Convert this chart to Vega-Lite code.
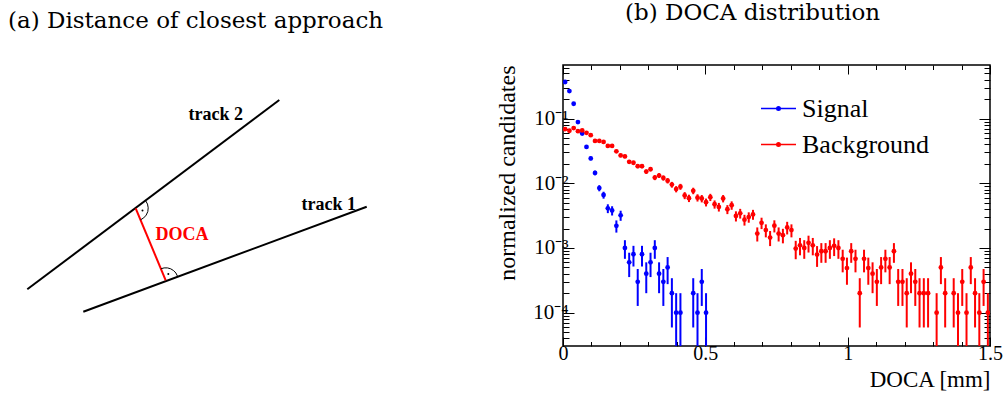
{
  "$schema": "https://vega.github.io/schema/vega-lite/v6.json",
  "padding": {"top": 1, "left": 0, "right": 0, "bottom": 0},
  "spacing": 24,
  "config": {
    "font": "Liberation Serif",
    "view": {"stroke": "black", "strokeWidth": 1.5},
    "title": {"font": "DejaVu Serif", "fontSize": 23, "fontWeight": "normal", "color": "black", "baseline": "alphabetic", "offset": 32},
    "axis": {"labelFont": "Liberation Serif", "titleFont": "Liberation Serif", "labelColor": "black", "titleColor": "black", "titleFontWeight": "normal", "tickColor": "black", "grid": false, "domain": false},
    "legend": {"labelFont": "Liberation Serif", "labelColor": "black"}
  },
  "datasets": {
    "tracks": [
      {"name": "track 2", "x": 2.73, "y": 5.67, "x2": 27.93, "y2": 24.6},
      {"name": "track 1", "x": 8.33, "y": 3.43, "x2": 36.67, "y2": 13.93}
    ],
    "docaLine": [
      {"name": "DOCA", "x": 13.57, "y": 13.77, "x2": 16.57, "y2": 6.57}
    ],
    "arcs": [
      {"arc": 1, "i": 0, "x": 14.57, "y": 14.52},
      {"arc": 1, "i": 1, "x": 14.75, "y": 14.19},
      {"arc": 1, "i": 2, "x": 14.82, "y": 13.82},
      {"arc": 1, "i": 3, "x": 14.78, "y": 13.44},
      {"arc": 1, "i": 4, "x": 14.62, "y": 13.09},
      {"arc": 1, "i": 5, "x": 14.37, "y": 12.81},
      {"arc": 1, "i": 6, "x": 14.05, "y": 12.62},
      {"arc": 2, "i": 0, "x": 16.09, "y": 7.72},
      {"arc": 2, "i": 1, "x": 16.41, "y": 7.81},
      {"arc": 2, "i": 2, "x": 16.75, "y": 7.81},
      {"arc": 2, "i": 3, "x": 17.07, "y": 7.72},
      {"arc": 2, "i": 4, "x": 17.36, "y": 7.54},
      {"arc": 2, "i": 5, "x": 17.59, "y": 7.30},
      {"arc": 2, "i": 6, "x": 17.74, "y": 7.00}
    ],
    "dots": [
      {"x": 14.25, "y": 13.55},
      {"x": 16.83, "y": 7.2}
    ],
    "trackLabels": [
      {"t": "track 2", "x": 21.58, "y": 22.57},
      {"t": "track 1", "x": 32.88, "y": 13.63}
    ],
    "docaLabel": [
      {"t": "DOCA", "x": 18.2, "y": 10.57}
    ],
    "hist": [
      {"s": "Signal", "x": 0.0075, "v": 0.369, "lo": 0.363, "hi": 0.375},
      {"s": "Signal", "x": 0.0225, "v": 0.267, "lo": 0.262, "hi": 0.272},
      {"s": "Signal", "x": 0.0375, "v": 0.170, "lo": 0.166, "hi": 0.174},
      {"s": "Signal", "x": 0.0525, "v": 0.0887, "lo": 0.0857, "hi": 0.0917},
      {"s": "Signal", "x": 0.0675, "v": 0.059, "lo": 0.0566, "hi": 0.0614},
      {"s": "Signal", "x": 0.0825, "v": 0.0365, "lo": 0.0346, "hi": 0.0384},
      {"s": "Signal", "x": 0.0975, "v": 0.0243, "lo": 0.0227, "hi": 0.0259},
      {"s": "Signal", "x": 0.1125, "v": 0.0145, "lo": 0.0133, "hi": 0.0157},
      {"s": "Signal", "x": 0.1275, "v": 0.00845, "lo": 0.00753, "hi": 0.00937},
      {"s": "Signal", "x": 0.1425, "v": 0.0066, "lo": 0.00579, "hi": 0.00741},
      {"s": "Signal", "x": 0.1575, "v": 0.0041, "lo": 0.00346, "hi": 0.00474},
      {"s": "Signal", "x": 0.1725, "v": 0.0038, "lo": 0.00318, "hi": 0.00442},
      {"s": "Signal", "x": 0.1875, "v": 0.0022, "lo": 0.00173, "hi": 0.00267},
      {"s": "Signal", "x": 0.2025, "v": 0.0032, "lo": 0.00263, "hi": 0.00377},
      {"s": "Signal", "x": 0.2175, "v": 0.001, "lo": 0.00068, "hi": 0.00132},
      {"s": "Signal", "x": 0.2325, "v": 0.0006, "lo": 0.000355, "hi": 0.000845},
      {"s": "Signal", "x": 0.2475, "v": 0.0008, "lo": 0.000517, "hi": 0.00108},
      {"s": "Signal", "x": 0.2625, "v": 0.0003, "lo": 0.000127, "hi": 0.000473},
      {"s": "Signal", "x": 0.2775, "v": 0.0008, "lo": 0.000517, "hi": 0.00108},
      {"s": "Signal", "x": 0.2925, "v": 0.0004, "lo": 0.0002, "hi": 0.0006},
      {"s": "Signal", "x": 0.3075, "v": 0.0006, "lo": 0.000355, "hi": 0.000845},
      {"s": "Signal", "x": 0.3225, "v": 0.001, "lo": 0.00068, "hi": 0.00132},
      {"s": "Signal", "x": 0.3375, "v": 0.0004, "lo": 0.0002, "hi": 0.0006},
      {"s": "Signal", "x": 0.3525, "v": 0.0003, "lo": 0.000127, "hi": 0.000473},
      {"s": "Signal", "x": 0.3675, "v": 0.0005, "lo": 0.000276, "hi": 0.000724},
      {"s": "Signal", "x": 0.3825, "v": 0.0002, "lo": 0.000059, "hi": 0.000341},
      {"s": "Signal", "x": 0.3975, "v": 0.0001, "lo": 0.000001, "hi": 0.0002},
      {"s": "Signal", "x": 0.4125, "v": 0.0001, "lo": 0.000001, "hi": 0.0002},
      {"s": "Signal", "x": 0.4575, "v": 0.0002, "lo": 0.000059, "hi": 0.000341},
      {"s": "Signal", "x": 0.4725, "v": 0.0001, "lo": 0.000001, "hi": 0.0002},
      {"s": "Signal", "x": 0.4875, "v": 0.0003, "lo": 0.000127, "hi": 0.000473},
      {"s": "Signal", "x": 0.5025, "v": 0.0001, "lo": 0.000001, "hi": 0.0002},
      {"s": "Background", "x": 0.0075, "v": 0.069, "lo": 0.0664, "hi": 0.0716},
      {"s": "Background", "x": 0.0225, "v": 0.065, "lo": 0.0625, "hi": 0.0676},
      {"s": "Background", "x": 0.0375, "v": 0.0715, "lo": 0.0688, "hi": 0.0742},
      {"s": "Background", "x": 0.0525, "v": 0.064, "lo": 0.0615, "hi": 0.0665},
      {"s": "Background", "x": 0.0675, "v": 0.0657, "lo": 0.0631, "hi": 0.0683},
      {"s": "Background", "x": 0.0825, "v": 0.0604, "lo": 0.0579, "hi": 0.0629},
      {"s": "Background", "x": 0.0975, "v": 0.0556, "lo": 0.0532, "hi": 0.058},
      {"s": "Background", "x": 0.1125, "v": 0.0453, "lo": 0.0432, "hi": 0.0474},
      {"s": "Background", "x": 0.1275, "v": 0.0453, "lo": 0.0432, "hi": 0.0474},
      {"s": "Background", "x": 0.1425, "v": 0.0437, "lo": 0.0416, "hi": 0.0458},
      {"s": "Background", "x": 0.1575, "v": 0.0379, "lo": 0.036, "hi": 0.0399},
      {"s": "Background", "x": 0.1725, "v": 0.0379, "lo": 0.036, "hi": 0.0399},
      {"s": "Background", "x": 0.1875, "v": 0.0313, "lo": 0.0295, "hi": 0.0331},
      {"s": "Background", "x": 0.2025, "v": 0.027, "lo": 0.0254, "hi": 0.0286},
      {"s": "Background", "x": 0.2175, "v": 0.0261, "lo": 0.0245, "hi": 0.0277},
      {"s": "Background", "x": 0.2325, "v": 0.0215, "lo": 0.02, "hi": 0.023},
      {"s": "Background", "x": 0.2475, "v": 0.0208, "lo": 0.0194, "hi": 0.0222},
      {"s": "Background", "x": 0.2625, "v": 0.01845, "lo": 0.0171, "hi": 0.0198},
      {"s": "Background", "x": 0.2775, "v": 0.01845, "lo": 0.0171, "hi": 0.0198},
      {"s": "Background", "x": 0.2925, "v": 0.0152, "lo": 0.014, "hi": 0.0164},
      {"s": "Background", "x": 0.3075, "v": 0.01655, "lo": 0.0153, "hi": 0.0178},
      {"s": "Background", "x": 0.3225, "v": 0.01227, "lo": 0.0112, "hi": 0.0134},
      {"s": "Background", "x": 0.3375, "v": 0.0132, "lo": 0.0121, "hi": 0.0144},
      {"s": "Background", "x": 0.3525, "v": 0.0121, "lo": 0.011, "hi": 0.0132},
      {"s": "Background", "x": 0.3675, "v": 0.011, "lo": 0.00995, "hi": 0.01205},
      {"s": "Background", "x": 0.3825, "v": 0.00955, "lo": 0.00857, "hi": 0.01053},
      {"s": "Background", "x": 0.3975, "v": 0.00815, "lo": 0.00725, "hi": 0.00905},
      {"s": "Background", "x": 0.4125, "v": 0.00887, "lo": 0.00793, "hi": 0.00981},
      {"s": "Background", "x": 0.4275, "v": 0.0065, "lo": 0.00569, "hi": 0.00731},
      {"s": "Background", "x": 0.4425, "v": 0.0059, "lo": 0.00513, "hi": 0.00667},
      {"s": "Background", "x": 0.4575, "v": 0.00767, "lo": 0.00679, "hi": 0.00855},
      {"s": "Background", "x": 0.4725, "v": 0.006, "lo": 0.00523, "hi": 0.00677},
      {"s": "Background", "x": 0.4875, "v": 0.00583, "lo": 0.00507, "hi": 0.00659},
      {"s": "Background", "x": 0.5025, "v": 0.0051, "lo": 0.00439, "hi": 0.00581},
      {"s": "Background", "x": 0.5175, "v": 0.0061, "lo": 0.00532, "hi": 0.00688},
      {"s": "Background", "x": 0.5325, "v": 0.00475, "lo": 0.00406, "hi": 0.00544},
      {"s": "Background", "x": 0.5475, "v": 0.00432, "lo": 0.00366, "hi": 0.00498},
      {"s": "Background", "x": 0.5625, "v": 0.00583, "lo": 0.00507, "hi": 0.00659},
      {"s": "Background", "x": 0.5775, "v": 0.00397, "lo": 0.00334, "hi": 0.0046},
      {"s": "Background", "x": 0.5925, "v": 0.00458, "lo": 0.0039, "hi": 0.00526},
      {"s": "Background", "x": 0.6075, "v": 0.00313, "lo": 0.00257, "hi": 0.00369},
      {"s": "Background", "x": 0.6225, "v": 0.00344, "lo": 0.00285, "hi": 0.00403},
      {"s": "Background", "x": 0.6375, "v": 0.00274, "lo": 0.00222, "hi": 0.00326},
      {"s": "Background", "x": 0.6525, "v": 0.00301, "lo": 0.00246, "hi": 0.00356},
      {"s": "Background", "x": 0.6675, "v": 0.00331, "lo": 0.00273, "hi": 0.00389},
      {"s": "Background", "x": 0.6825, "v": 0.00167, "lo": 0.00126, "hi": 0.00208},
      {"s": "Background", "x": 0.6975, "v": 0.00245, "lo": 0.00196, "hi": 0.00294},
      {"s": "Background", "x": 0.7125, "v": 0.00189, "lo": 0.00146, "hi": 0.00232},
      {"s": "Background", "x": 0.7275, "v": 0.00145, "lo": 0.00107, "hi": 0.00183},
      {"s": "Background", "x": 0.7425, "v": 0.00221, "lo": 0.00174, "hi": 0.00268},
      {"s": "Background", "x": 0.7575, "v": 0.00167, "lo": 0.00126, "hi": 0.00208},
      {"s": "Background", "x": 0.7725, "v": 0.00158, "lo": 0.00118, "hi": 0.00198},
      {"s": "Background", "x": 0.7875, "v": 0.00208, "lo": 0.00162, "hi": 0.00254},
      {"s": "Background", "x": 0.8025, "v": 0.00189, "lo": 0.00146, "hi": 0.00232},
      {"s": "Background", "x": 0.8175, "v": 0.00098, "lo": 0.00067, "hi": 0.00129},
      {"s": "Background", "x": 0.8325, "v": 0.0011, "lo": 0.00077, "hi": 0.00143},
      {"s": "Background", "x": 0.8475, "v": 0.001, "lo": 0.00068, "hi": 0.00132},
      {"s": "Background", "x": 0.8625, "v": 0.0012, "lo": 0.00085, "hi": 0.00155},
      {"s": "Background", "x": 0.8775, "v": 0.0011, "lo": 0.00077, "hi": 0.00143},
      {"s": "Background", "x": 0.8925, "v": 0.00079, "lo": 0.00051, "hi": 0.00107},
      {"s": "Background", "x": 0.9075, "v": 0.00089, "lo": 0.00059, "hi": 0.00119},
      {"s": "Background", "x": 0.9225, "v": 0.00089, "lo": 0.00059, "hi": 0.00119},
      {"s": "Background", "x": 0.9375, "v": 0.001, "lo": 0.00068, "hi": 0.00132},
      {"s": "Background", "x": 0.9525, "v": 0.00108, "lo": 0.00075, "hi": 0.00141},
      {"s": "Background", "x": 0.9675, "v": 0.001, "lo": 0.00068, "hi": 0.00132},
      {"s": "Background", "x": 0.9825, "v": 0.00068, "lo": 0.00042, "hi": 0.00094},
      {"s": "Background", "x": 0.9975, "v": 0.00049, "lo": 0.00027, "hi": 0.00071},
      {"s": "Background", "x": 1.0125, "v": 0.00089, "lo": 0.00059, "hi": 0.00119},
      {"s": "Background", "x": 1.0275, "v": 0.00068, "lo": 0.00042, "hi": 0.00094},
      {"s": "Background", "x": 1.0425, "v": 0.0002, "lo": 0.000059, "hi": 0.000341},
      {"s": "Background", "x": 1.0575, "v": 0.00068, "lo": 0.00042, "hi": 0.00094},
      {"s": "Background", "x": 1.0725, "v": 0.00049, "lo": 0.00027, "hi": 0.00071},
      {"s": "Background", "x": 1.0875, "v": 0.0004, "lo": 0.0002, "hi": 0.0006},
      {"s": "Background", "x": 1.1025, "v": 0.0003, "lo": 0.000127, "hi": 0.000473},
      {"s": "Background", "x": 1.1175, "v": 0.0005, "lo": 0.000276, "hi": 0.000724},
      {"s": "Background", "x": 1.1325, "v": 0.00068, "lo": 0.00042, "hi": 0.00094},
      {"s": "Background", "x": 1.1475, "v": 0.0005, "lo": 0.000276, "hi": 0.000724},
      {"s": "Background", "x": 1.1625, "v": 0.00089, "lo": 0.00059, "hi": 0.00119},
      {"s": "Background", "x": 1.1775, "v": 0.0003, "lo": 0.000127, "hi": 0.000473},
      {"s": "Background", "x": 1.1925, "v": 0.0003, "lo": 0.000127, "hi": 0.000473},
      {"s": "Background", "x": 1.2075, "v": 0.0002, "lo": 0.000059, "hi": 0.000341},
      {"s": "Background", "x": 1.2225, "v": 0.0004, "lo": 0.0002, "hi": 0.0006},
      {"s": "Background", "x": 1.2375, "v": 0.0003, "lo": 0.000127, "hi": 0.000473},
      {"s": "Background", "x": 1.2525, "v": 0.0002, "lo": 0.000059, "hi": 0.000341},
      {"s": "Background", "x": 1.2675, "v": 0.0002, "lo": 0.000059, "hi": 0.000341},
      {"s": "Background", "x": 1.2825, "v": 0.0002, "lo": 0.000059, "hi": 0.000341},
      {"s": "Background", "x": 1.3125, "v": 0.0001, "lo": 0.000001, "hi": 0.0002},
      {"s": "Background", "x": 1.3275, "v": 0.0005, "lo": 0.000276, "hi": 0.000724},
      {"s": "Background", "x": 1.3425, "v": 0.0002, "lo": 0.000059, "hi": 0.000341},
      {"s": "Background", "x": 1.3725, "v": 0.0002, "lo": 0.000059, "hi": 0.000341},
      {"s": "Background", "x": 1.3875, "v": 0.0001, "lo": 0.000001, "hi": 0.0002},
      {"s": "Background", "x": 1.4025, "v": 0.0003, "lo": 0.000127, "hi": 0.000473},
      {"s": "Background", "x": 1.4175, "v": 0.0001, "lo": 0.000001, "hi": 0.0002},
      {"s": "Background", "x": 1.4325, "v": 0.0005, "lo": 0.000276, "hi": 0.000724},
      {"s": "Background", "x": 1.4475, "v": 0.0002, "lo": 0.000059, "hi": 0.000341},
      {"s": "Background", "x": 1.4625, "v": 0.0001, "lo": 0.000001, "hi": 0.0002},
      {"s": "Background", "x": 1.4775, "v": 0.0003, "lo": 0.000127, "hi": 0.000473},
      {"s": "Background", "x": 1.4925, "v": 0.0001, "lo": 0.000001, "hi": 0.0002}
    ]
  },
  "hconcat": [
    {
      "width": 470,
      "height": 281,
      "view": {"stroke": null},
      "title": {"text": "(a) Distance of closest approach", "anchor": "start", "dx": 8},
      "layer": [
        {
          "data": {"name": "tracks"},
          "mark": {"type": "rule", "color": "black", "strokeWidth": 2},
          "encoding": {
            "x": {"field": "x", "type": "quantitative", "scale": {"domain": [0, 47], "nice": false, "zero": false}, "axis": null},
            "y": {"field": "y", "type": "quantitative", "scale": {"domain": [0, 28.1], "nice": false, "zero": false}, "axis": null},
            "x2": {"field": "x2"},
            "y2": {"field": "y2"}
          }
        },
        {
          "data": {"name": "docaLine"},
          "mark": {"type": "rule", "color": "#ff0000", "strokeWidth": 2},
          "encoding": {
            "x": {"field": "x", "type": "quantitative"},
            "y": {"field": "y", "type": "quantitative"},
            "x2": {"field": "x2"},
            "y2": {"field": "y2"}
          }
        },
        {
          "data": {"name": "arcs"},
          "mark": {"type": "line", "color": "black", "strokeWidth": 1},
          "encoding": {
            "x": {"field": "x", "type": "quantitative"},
            "y": {"field": "y", "type": "quantitative"},
            "detail": {"field": "arc"},
            "order": {"field": "i"}
          }
        },
        {
          "data": {"name": "dots"},
          "mark": {"type": "circle", "color": "black", "size": 4, "opacity": 1},
          "encoding": {
            "x": {"field": "x", "type": "quantitative"},
            "y": {"field": "y", "type": "quantitative"}
          }
        },
        {
          "data": {"name": "trackLabels"},
          "mark": {"type": "text", "font": "Liberation Serif", "fontWeight": "bold", "fontSize": 18, "align": "center", "baseline": "alphabetic", "color": "black"},
          "encoding": {
            "x": {"field": "x", "type": "quantitative"},
            "y": {"field": "y", "type": "quantitative"},
            "text": {"field": "t"}
          }
        },
        {
          "data": {"name": "docaLabel"},
          "mark": {"type": "text", "font": "Liberation Serif", "fontWeight": "bold", "fontSize": 18, "align": "center", "baseline": "alphabetic", "color": "#ff0000"},
          "encoding": {
            "x": {"field": "x", "type": "quantitative"},
            "y": {"field": "y", "type": "quantitative"},
            "text": {"field": "t"}
          }
        }
      ]
    },
    {
      "width": 427,
      "height": 281,
      "title": {"text": "(b) DOCA distribution", "anchor": "middle", "dx": -24},
      "data": {"name": "hist"},
      "layer": [
        {
          "mark": {"type": "rule", "strokeWidth": 2, "clip": true},
          "encoding": {
            "x": {
              "field": "x", "type": "quantitative",
              "scale": {"domain": [0, 1.5], "nice": false, "zero": false},
              "axis": {
                "orient": "bottom",
                "values": [0, 0.1, 0.2, 0.3, 0.4, 0.5, 0.6, 0.7, 0.8, 0.9, 1, 1.1, 1.2, 1.3, 1.4, 1.5],
                "title": "DOCA [mm]", "titleAnchor": "end", "titleFont": "Liberation Serif", "titleFontSize": 23, "titlePadding": 1,
                "labelFont": "Liberation Serif", "labelFontSize": 20, "labelPadding": 6, "labelFlush": false, "labelOverlap": false, "labelBound": false,
                "labelExpr": "abs(datum.value*2-round(datum.value*2))<1e-6 ? ''+datum.value : ''",
                "tickSize": {"condition": {"test": "abs(datum.value*2-round(datum.value*2))<1e-6", "value": -9}, "value": -4.5},
                "tickWidth": 1
              }
            },
            "y": {
              "field": "lo", "type": "quantitative",
              "scale": {"type": "log", "domain": [0.0000305, 0.676], "nice": false, "zero": false},
              "axis": {
                "orient": "left",
                "values": [0.00004, 0.00005, 0.00006, 0.00007, 0.00008, 0.00009, 0.0001, 0.0002, 0.0003, 0.0004, 0.0005, 0.0006, 0.0007, 0.0008, 0.0009, 0.001, 0.002, 0.003, 0.004, 0.005, 0.006, 0.007, 0.008, 0.009, 0.01, 0.02, 0.03, 0.04, 0.05, 0.06, 0.07, 0.08, 0.09, 0.1, 0.2, 0.3, 0.4, 0.5, 0.6],
                "title": "normalized candidates", "titleAnchor": "end", "titleFont": "Liberation Serif", "titleFontSize": 24, "titlePadding": 13,
                "labelFont": "Liberation Serif", "labelFontSize": 21, "labelPadding": 6, "labelFlush": false, "labelOverlap": false, "labelBound": false,
                "labelExpr": "abs(log(datum.value)/LN10-round(log(datum.value)/LN10))<1e-6 ? (round(log(datum.value)/LN10)==-1 ? '10⁻¹' : round(log(datum.value)/LN10)==-2 ? '10⁻²' : round(log(datum.value)/LN10)==-3 ? '10⁻³' : '10⁻⁴') : ''",
                "tickSize": {"condition": {"test": "abs(log(datum.value)/LN10-round(log(datum.value)/LN10))<1e-6", "value": -11}, "value": -6},
                "tickWidth": 1
              }
            },
            "y2": {"field": "hi"},
            "color": {
              "field": "s", "type": "nominal",
              "scale": {"domain": ["Signal", "Background"], "range": ["#0000ff", "#ff0000"]},
              "legend": {
                "orient": "none", "legendX": 760, "legendY": 25, "title": null,
                "symbolType": "M-1,0H1M0.1,0A0.1,0.1,0,1,1,-0.1,0A0.1,0.1,0,1,1,0.1,0Z",
                "symbolSize": 1225, "symbolStrokeWidth": 1.5,
                "labelFont": "Liberation Serif", "labelFontSize": 26, "labelOffset": 5, "rowPadding": 4,
                "encode": {"symbols": {"update": {"fill": {"scale": "color", "field": "value"}, "stroke": {"scale": "color", "field": "value"}, "opacity": {"value": 1}}}}
              }
            }
          }
        },
        {
          "mark": {"type": "circle", "size": 23, "opacity": 1, "clip": true},
          "encoding": {
            "x": {
              "field": "x", "type": "quantitative",
              "axis": {
                "orient": "top",
                "values": [0, 0.1, 0.2, 0.3, 0.4, 0.5, 0.6, 0.7, 0.8, 0.9, 1, 1.1, 1.2, 1.3, 1.4, 1.5],
                "labels": false, "title": null,
                "tickSize": {"condition": {"test": "abs(datum.value*2-round(datum.value*2))<1e-6", "value": -9}, "value": -4.5},
                "tickWidth": 1
              }
            },
            "y": {
              "field": "v", "type": "quantitative",
              "axis": {
                "orient": "right",
                "values": [0.00004, 0.00005, 0.00006, 0.00007, 0.00008, 0.00009, 0.0001, 0.0002, 0.0003, 0.0004, 0.0005, 0.0006, 0.0007, 0.0008, 0.0009, 0.001, 0.002, 0.003, 0.004, 0.005, 0.006, 0.007, 0.008, 0.009, 0.01, 0.02, 0.03, 0.04, 0.05, 0.06, 0.07, 0.08, 0.09, 0.1, 0.2, 0.3, 0.4, 0.5, 0.6],
                "labels": false, "title": null,
                "tickSize": {"condition": {"test": "abs(log(datum.value)/LN10-round(log(datum.value)/LN10))<1e-6", "value": -11}, "value": -6},
                "tickWidth": 1
              }
            },
            "color": {"field": "s", "type": "nominal"}
          }
        }
      ]
    }
  ]
}
